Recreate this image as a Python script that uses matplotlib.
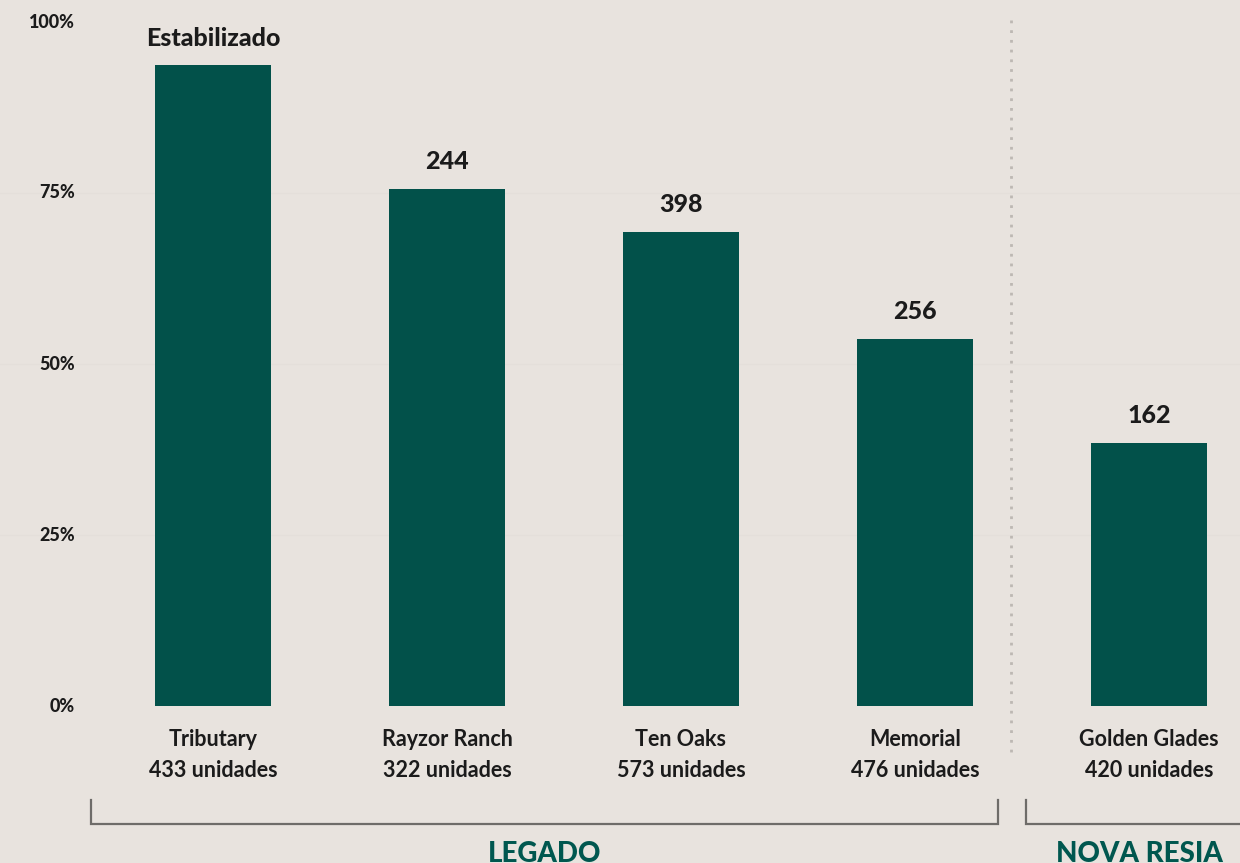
import matplotlib.pyplot as plt
from matplotlib.transforms import blended_transform_factory

# occupancy per property (%)
properties = ["Tributary", "Rayzor Ranch", "Ten Oaks", "Memorial", "Golden Glades"]
units = [433, 322, 573, 476, 420]
occupancy = [93.7, 75.6, 69.3, 53.7, 38.5]
top_labels = ["Estabilizado", "244", "398", "256", "162"]
y_ticks = [0, 25, 50, 75, 100]

bg = "#E8E3DE"
bar_color = "#02514A"
text_color = "#1B1B1B"
group_color = "#00574F"
bracket_color = "#6E6C69"

plt.rcParams["font.family"] = ["Lato", "DejaVu Sans"]

fig = plt.figure(figsize=(12.4, 8.63), dpi=100)
fig.patch.set_facecolor(bg)
ax = fig.add_axes([0, 157 / 863, 1, 684 / 863])
ax.set_facecolor(bg)
ax.set_xlim(-213 / 234, (1240 - 213) / 234)
ax.set_ylim(0, 100)
for s in ax.spines.values():
    s.set_visible(False)
ax.set_xticks([])
ax.set_yticks([])

# faint guide lines
for y in y_ticks[1:-1]:
    ax.axhline(y, color="#E4DFDA", lw=1, zorder=0)

x = list(range(len(properties)))
ax.bar(x, occupancy, width=0.496, color=bar_color, zorder=2)

# value labels over bars
for xi, h, lab in zip(x, occupancy, top_labels):
    ax.annotate(lab, (xi, h), xytext=(0, 19.5), textcoords="offset points",
                ha="center", va="center", fontsize=18, fontweight="black", color=text_color)

# y tick labels
trans = blended_transform_factory(ax.transAxes, ax.transData)
for y in y_ticks:
    ax.text(75 / 1240, y, "%d%%" % y, transform=trans, ha="right", va="center",
            fontsize=13, fontweight="black", color=text_color)

# category labels
for xi, name, u in zip(x, properties, units):
    ax.text(xi, -4.97, name, ha="center", va="center", fontsize=15.5,
            fontweight="bold", color=text_color, clip_on=False)
    ax.text(xi, -9.5, "%d unidades" % u, ha="center", va="center", fontsize=15.5,
            fontweight="bold", color=text_color, clip_on=False)

# separator between groups
ax.plot([3.41, 3.41], [100.3, -6.7], color="#BDB8B3", lw=2, ls=(0, (1, 2.5)),
        clip_on=False, zorder=1)

# group brackets
y_top, y_bot = -13.7, -17.25
ax.plot([-0.521, -0.521, 3.355, 3.355], [y_top, y_bot, y_bot, y_top],
        color=bracket_color, lw=1.6, clip_on=False, solid_joinstyle="miter")
ax.plot([3.474, 3.474, 4.6], [y_top, y_bot, y_bot],
        color=bracket_color, lw=1.6, clip_on=False, solid_joinstyle="miter")
ax.text(1.419, -21.6, "LEGADO", ha="center", va="center", fontsize=20,
        fontweight="black", color=group_color, clip_on=False)
ax.text(3.96, -21.6, "NOVA RESIA", ha="center", va="center", fontsize=20,
        fontweight="black", color=group_color, clip_on=False)

fig.savefig("out.png", dpi=100, facecolor=bg)
